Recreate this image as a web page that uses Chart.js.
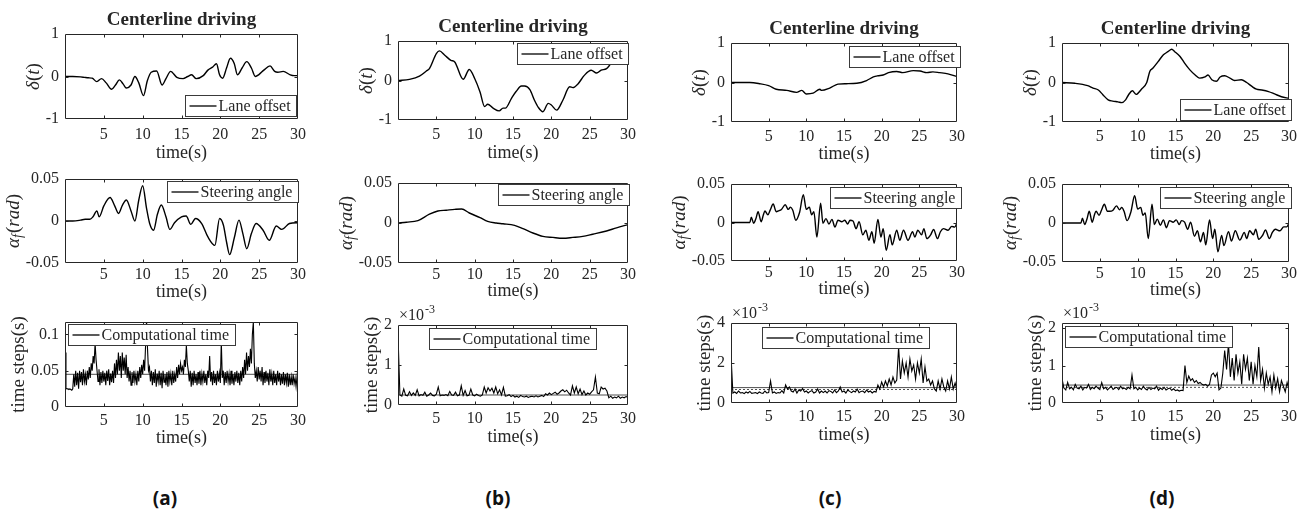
<!DOCTYPE html>
<html>
<head>
<meta charset="utf-8">
<script src="https://cdn.jsdelivr.net/npm/chart.js@4.4.0/dist/chart.umd.min.js"></script>
<style>
	body { margin: 0; background: #fff; width: 1304px; height: 514px; position: relative; overflow: hidden; }
	canvas { position: absolute; }
	.tag { position: absolute; width: 60px; margin-left: -30px; text-align: center; font: bold 19px "Open Sans", "Noto Sans", sans-serif; color: #111; line-height: 24px; }
</style>
</head>
<body>
<div class="tag" style="left:165px;top:486px">(a)</div>
<div class="tag" style="left:498px;top:486px">(b)</div>
<div class="tag" style="left:830px;top:486px">(c)</div>
<div class="tag" style="left:1162px;top:486px">(d)</div>
<script>
// ---- data ----
const xTicks = [5, 10, 15, 20, 25, 30];
const offsetTicks = [-1, 0, 1];
const steerTicks = [-0.05, 0, 0.05];
const compTicksA = [0, 0.05, 0.1];
const compTicksB = [0, 1, 2];   // x 1e-3 s
const compTicksC = [0, 2, 4];   // x 1e-3 s
const compTicksD = [0, 1, 2];   // x 1e-3 s

// lane offset delta(t)
const offsetTimeA = [0,1,2,2.5,3,3.5,4.1,4.7,5.3,6.0,6.5,7.0,7.5,7.9,8.5,9.0,9.5,10.1,10.6,11.1,11.8,12.5,13.0,13.6,14.4,15.2,15.8,16.3,16.9,17.8,18.4,19.0,19.5,19.9,20.3,20.8,21.3,21.8,22.2,22.8,23.4,24.0,24.5,25.0,25.6,26.4,27.0,27.4,28.1,29,29.5,30];
const offsetA = [0,0,-0.01,-0.02,-0.03,-0.04,-0.12,-0.05,-0.15,-0.3,-0.2,-0.08,-0.18,-0.27,-0.2,0,-0.15,-0.45,-0.1,0.1,0.13,-0.2,-0.05,0.12,-0.02,-0.05,0,0.04,-0.05,0.02,0.15,0.22,0.3,0.04,-0.04,0.2,0.43,0.3,0.04,0.2,0.35,0.2,0,0.05,0.15,0.25,0.12,0.1,0.12,0.04,0.02,0.02];
const offsetTimeB = [0,1.5,2.8,3.7,4.1,5.0,5.4,6.1,6.9,7.4,8.5,9.3,10,10.7,11.3,11.7,12.4,13.2,13.7,14,14.8,15.4,16.1,16.5,17.2,17.8,18.3,18.9,19.6,20,20.7,21.5,22.4,22.8,23.5,24.3,25.2,25.9,26.5,27.2,27.8,28.5,29.3,30];
const offsetB = [0,0.03,0.11,0.24,0.3,0.68,0.75,0.64,0.51,0.47,0.03,0.28,0.05,-0.29,-0.66,-0.6,-0.7,-0.77,-0.7,-0.7,-0.45,-0.28,-0.14,-0.14,-0.23,-0.5,-0.68,-0.79,-0.58,-0.62,-0.75,-0.5,-0.16,-0.18,-0.08,0.13,0.26,0.19,0.26,0.3,0.43,0.51,0.55,0.6];
const offsetTimeC = [0,2.5,3.8,5,6,7.4,8.7,9.4,10,10.9,11.8,12,13.1,14.2,15.3,16.7,18,18.9,19.5,20.2,20.9,22,22.8,24.2,25.1,26,26.8,27.7,28.8,30];
const offsetC = [0,0,-0.03,-0.08,-0.17,-0.2,-0.25,-0.2,-0.29,-0.27,-0.17,-0.2,-0.14,-0.04,-0.03,-0.02,0.05,0.14,0.17,0.19,0.25,0.28,0.25,0.3,0.29,0.25,0.27,0.25,0.22,0.15];
const offsetTimeD = [0,1.7,3.4,4.1,4.8,5.4,6.1,6.7,7.4,7.9,8.4,8.8,9.3,9.8,10.5,11.2,11.6,12.0,12.7,13.4,14.0,14.5,14.9,15.6,16.2,16.9,17.6,18.2,18.9,19.3,19.8,20.4,20.9,21.5,22.2,22.8,23.7,24.4,25.1,25.7,26.4,27.3,28.1,29.0,30];
const offsetD = [0,-0.02,-0.08,-0.14,-0.19,-0.31,-0.44,-0.47,-0.49,-0.51,-0.44,-0.31,-0.21,-0.3,-0.17,0,0.28,0.36,0.53,0.7,0.78,0.84,0.78,0.66,0.49,0.32,0.19,0.11,0.14,0.19,0.07,0.03,0.14,0.17,0.11,0.05,0.07,0,-0.1,-0.17,-0.19,-0.23,-0.29,-0.36,-0.4];

// steering angle alpha_f (rad)
const steerTimeA = [0,1,2,2.6,3.2,3.6,4.1,4.4,5.0,5.8,6.4,6.9,7.4,7.9,8.5,9.0,9.5,10.0,10.5,10.9,11.4,11.9,12.4,13.0,13.5,14.1,15.0,15.6,16.2,16.8,17.6,18.4,19.3,19.9,20.4,20.8,21.2,21.8,22.4,22.9,23.4,24.0,24.6,25.5,26.3,27.2,27.9,28.9,29.8,30];
const steerA = [0,0,0.001,0.002,0.002,0.005,0.012,0.005,0.018,0.028,0.018,0.009,0.019,0.025,0.012,0,0.025,0.042,0.015,-0.003,-0.011,0.008,0.019,0.005,-0.01,-0.002,0.005,0.006,-0.004,0.003,-0.003,-0.019,-0.029,0.003,-0.005,-0.025,-0.04,-0.02,0.001,-0.015,-0.033,-0.015,-0.003,-0.011,-0.023,-0.006,-0.01,-0.003,-0.002,-0.003];
const steerTimeB = [0,1.1,2.6,4.1,5.2,6.3,7.4,8.3,9.3,10.7,11.7,12.8,13.7,15.2,16.3,17.6,18.9,20.2,21.5,22.8,24.1,25.4,27.2,28.5,30];
const steerB = [0,0.001,0.003,0.011,0.015,0.016,0.017,0.0175,0.0125,0.0067,0.002,0,-0.001,-0.003,-0.007,-0.0125,-0.0167,-0.018,-0.019,-0.018,-0.0167,-0.014,-0.01,-0.006,-0.002];
const steerTimeC = [0,2.5,2.7,3.0,3.3,3.6,4.0,4.3,4.5,4.9,5.2,5.6,6.0,6.3,6.7,7.2,7.6,7.9,8.2,8.6,9.1,9.6,10.0,10.4,10.7,11.0,11.4,11.9,12.2,12.6,13.0,13.4,13.8,14.2,14.7,15.1,15.5,15.8,16.2,16.6,17.0,17.5,17.9,18.3,18.7,19.0,19.5,19.9,20.2,20.6,21.1,21.4,22.0,22.4,22.9,23.5,24.1,24.4,24.8,25.3,25.6,26.0,26.5,26.9,27.4,27.8,28.2,28.8,29.3,29.7,30];
const steerC = [0,0,0.007,-0.001,0.005,0.014,0.001,0.01,0.015,0.01,0.016,0.024,0.014,0.015,0.017,0.023,0.017,0.02,0.016,0.003,0.013,0.036,0.017,0.02,0.01,0.014,-0.019,0.025,-0.001,0.005,-0.002,0.004,-0.006,0.003,0.001,0.003,-0.002,0.003,0.002,-0.008,0.001,-0.016,-0.01,-0.023,-0.012,-0.027,0.004,-0.019,-0.008,-0.036,-0.016,-0.029,-0.01,-0.023,-0.01,-0.023,-0.012,-0.019,-0.01,-0.016,-0.008,-0.021,-0.016,-0.009,-0.021,-0.012,-0.008,-0.01,-0.005,-0.006,0];
const steerTimeD = [0,2.5,2.7,3.0,3.3,3.6,4.0,4.3,4.5,4.9,5.2,5.6,6.0,6.3,6.7,7.2,7.6,7.9,8.2,8.6,9.1,9.6,10.0,10.4,10.7,11.0,11.4,11.9,12.2,12.6,13.0,13.4,13.8,14.2,14.7,15.1,15.5,15.8,16.2,16.6,17.0,17.5,17.9,18.3,18.7,19.0,19.5,19.9,20.2,20.6,21.1,21.4,22.0,22.4,22.9,23.5,24.1,24.4,24.8,25.3,25.6,26.0,26.5,26.9,27.4,27.8,28.2,28.8,29.3,29.7,30];
const steerD = [0,0,0.006,-0.002,0.005,0.015,0.001,0.011,0.015,0.01,0.016,0.024,0.015,0.015,0.016,0.022,0.017,0.02,0.015,0.003,0.014,0.035,0.018,0.02,0.01,0.013,-0.02,0.024,-0.002,0.005,-0.003,0.004,-0.006,0.003,0.001,0.004,-0.002,0.003,0.001,-0.008,0.001,-0.017,-0.01,-0.024,-0.012,-0.028,0.004,-0.02,-0.008,-0.037,-0.016,-0.029,-0.011,-0.023,-0.01,-0.022,-0.012,-0.02,-0.01,-0.015,-0.008,-0.021,-0.016,-0.009,-0.02,-0.012,-0.008,-0.01,-0.005,-0.005,0];

// computational time, sampled on a regular grid from t = 0
const compStepA = 0.125;
const compStep = 0.25;
const compA = [0.075,
	0.026,0.025,0.025,0.024,0.025,0.024,0.023,0.025, 0.045,0.028,0.05,0.03,0.047,0.025,0.05,0.034,
	0.048,0.03,0.052,0.035,0.045,0.03,0.05,0.038, 0.055,0.04,0.06,0.05,0.07,0.06,0.088,0.065,
	0.05,0.035,0.052,0.03,0.048,0.033,0.05,0.035, 0.047,0.03,0.05,0.036,0.052,0.03,0.046,0.034,
	0.05,0.033,0.06,0.04,0.065,0.045,0.075,0.05, 0.07,0.04,0.075,0.05,0.068,0.045,0.072,0.04,
	0.055,0.035,0.05,0.03,0.048,0.033,0.05,0.035, 0.045,0.03,0.05,0.035,0.055,0.04,0.058,0.045,
	0.065,0.05,0.085,0.12,0.08,0.05,0.055,0.035, 0.05,0.03,0.048,0.033,0.052,0.028,0.046,0.035,
	0.05,0.03,0.047,0.026,0.05,0.034,0.045,0.03, 0.048,0.028,0.05,0.035,0.046,0.03,0.05,0.033,
	0.045,0.035,0.055,0.04,0.058,0.045,0.06,0.05, 0.055,0.045,0.065,0.055,0.085,0.06,0.05,0.035,
	0.05,0.028,0.047,0.03,0.05,0.033,0.045,0.03, 0.048,0.032,0.05,0.03,0.046,0.035,0.05,0.033,
	0.045,0.03,0.05,0.04,0.07,0.035,0.048,0.03, 0.05,0.033,0.045,0.03,0.05,0.035,0.047,0.033,
	0.09,0.04,0.05,0.03,0.048,0.033,0.05,0.035, 0.046,0.03,0.05,0.032,0.045,0.03,0.048,0.035,
	0.05,0.033,0.047,0.03,0.05,0.035,0.055,0.04, 0.065,0.045,0.075,0.05,0.07,0.055,0.08,0.06,
	0.1,0.117,0.06,0.04,0.05,0.035,0.055,0.038, 0.05,0.035,0.055,0.03,0.048,0.033,0.05,0.035,
	0.047,0.03,0.052,0.035,0.046,0.03,0.05,0.033, 0.045,0.03,0.05,0.035,0.047,0.03,0.045,0.032,
	0.048,0.03,0.045,0.033,0.047,0.028,0.045,0.03, 0.042,0.03,0.045,0.032,0.04,0.028,0.042,0.03];
const compB = [1.75,   // x 1e-3 s
	0.25,0.22,0.4,0.24, 0.23,0.33,0.24,0.3, 0.24,0.38,0.23,0.26, 0.24,0.32,0.22,0.25, 0.3,0.24,0.23,0.27,
	0.45,0.23,0.25,0.24, 0.26,0.23,0.34,0.25, 0.24,0.32,0.23,0.25, 0.48,0.24,0.36,0.23, 0.24,0.4,0.25,0.23,
	0.27,0.24,0.22,0.25, 0.45,0.3,0.43,0.35, 0.42,0.3,0.45,0.28, 0.38,0.25,0.44,0.22, 0.23,0.26,0.21,0.24,
	0.2,0.22,0.19,0.24, 0.21,0.2,0.22,0.19, 0.21,0.22,0.2,0.23, 0.2,0.22,0.24,0.21, 0.28,0.25,0.3,0.26,
	0.29,0.32,0.27,0.3, 0.35,0.38,0.33,0.37, 0.3,0.25,0.48,0.3, 0.45,0.28,0.4,0.26, 0.35,0.25,0.3,0.27,
	0.33,0.38,0.7,0.3, 0.28,0.45,0.4,0.42, 0.35,0.18,0.22,0.17, 0.2,0.18,0.22,0.17, 0.2,0.18,0.21,0.19];
const compC = [2.4,    // x 1e-3 s
	0.5,0.55,0.48,0.6, 0.5,0.52,0.47,0.55, 0.5,0.58,0.48,0.5, 0.52,0.47,0.55,0.5, 0.48,0.6,0.5,0.52,
	1.1,0.5,0.55,0.48, 0.52,0.5,0.62,0.5, 0.9,0.7,0.8,0.6, 0.55,0.7,0.5,0.65, 0.6,0.72,0.55,0.6,
	0.5,0.58,0.62,0.5, 0.55,0.7,0.5,0.6, 0.52,0.6,0.5,0.62, 0.58,0.5,0.65,0.52, 0.6,0.8,0.55,0.6,
	0.5,0.65,0.58,0.52, 0.6,0.55,0.7,0.52, 0.58,0.6,0.52,0.65, 0.55,0.6,0.5,0.58, 0.55,0.9,0.7,1.05,
	0.8,1.1,0.85,1.2, 0.9,1.3,1.0,1.15, 2.8,1.2,2.1,1.5, 2.0,1.3,2.2,1.6, 1.9,1.2,2.0,1.5,
	2.2,1.0,1.8,1.1, 1.2,0.9,1.1,0.7, 0.6,1.1,0.7,1.2, 0.8,0.6,1.1,0.7, 1.3,0.7,1.0,0.65];
const compD = [0.65,   // x 1e-3 s
	0.4,0.35,0.55,0.38, 0.42,0.35,0.5,0.4, 0.38,0.45,0.35,0.42, 0.4,0.5,0.36,0.42, 0.38,0.45,0.4,0.36,
	0.55,0.38,0.42,0.35, 0.4,0.45,0.36,0.4, 0.42,0.36,0.45,0.38, 0.4,0.36,0.42,0.38, 0.75,0.38,0.42,0.35,
	0.4,0.36,0.45,0.38, 0.35,0.42,0.36,0.4, 0.38,0.45,0.34,0.4, 0.36,0.42,0.35,0.38, 0.4,0.34,0.38,0.33,
	0.35,0.32,0.34,0.33, 1.0,0.55,0.72,0.6, 0.65,0.55,0.6,0.52, 0.55,0.5,0.48,0.5, 0.45,0.5,0.75,0.8,
	0.7,0.8,0.35,0.4, 0.8,1.4,0.9,1.6, 0.7,1.2,0.6,1.3, 0.8,1.1,0.5,1.3, 0.9,1.2,0.6,1.1,
	0.5,1.0,0.7,1.5, 0.6,0.9,0.4,0.8, 0.5,0.7,0.3,0.75, 0.4,0.65,0.3,0.6, 0.45,0.3,0.55,0.35];
// mean / band lines drawn over the computational time
const compRefA = [0.045];
const compRefB = [0.25];
const compRefC = [0.77, 0.68];
const compRefD = [0.48, 0.42];

// ---- drawing ----
var TXT = '#262626';
var SERIF = '"Liberation Serif", "Times New Roman", serif';
Chart.defaults.font.family = SERIF;
Chart.defaults.color = TXT;

var LBL_DELTA = [{s: 'δ', it: true}, {s: '('}, {s: 't', it: true}, {s: ')'}];
var LBL_ALPHA = [{s: 'α', it: true}, {s: 'f', it: true, sub: true}, {s: '('}, {s: 'rad', it: true}, {s: ')'}];
var LBL_TIME = [{s: 'time steps(s)'}];

function pts(ts, vs) { return vs.map((v, i) => ({x: ts[i], y: v})); }
function sampled(vs, step) { return vs.map((v, i) => ({x: i * step, y: v})); }

function partFont(p) { return (p.it ? 'italic ' : '') + (p.sub ? 14 : 19) + 'px ' + SERIF; }

function drawRich(ctx, parts, x, y)
{
	var w = 0;
	parts.forEach(p => { ctx.font = partFont(p); w += ctx.measureText(p.s).width + (p.sub ? 1 : 0); });
	var cx = x - w / 2;
	ctx.textAlign = 'left';
	ctx.textBaseline = 'middle';
	parts.forEach(p => {
		ctx.font = partFont(p);
		ctx.fillText(p.s, cx, y + (p.sub ? 5 : 0));
		cx += ctx.measureText(p.s).width + (p.sub ? 1 : 0);
	});
}

function decor(spec)
{
	return {
		id: 'decor',
		afterDatasetsDraw(chart)
		{
			var ctx = chart.ctx, a = chart.chartArea, sx = chart.scales.x, sy = chart.scales.y;
			ctx.save();
			ctx.fillStyle = TXT;
			ctx.strokeStyle = TXT;
			ctx.lineWidth = 1;

			var l = Math.round(a.left) + 0.5, t = Math.round(a.top) + 0.5;
			var r = Math.round(a.right) - 0.5, b = Math.round(a.bottom) - 0.5;
			ctx.beginPath();
			ctx.rect(l, t, r - l, b - t);
			xTicks.forEach(v => {
				var p = Math.round(sx.getPixelForValue(v)) + 0.5;
				if (p >= r - 1) return;
				ctx.moveTo(p, b); ctx.lineTo(p, b - 3);
				ctx.moveTo(p, t); ctx.lineTo(p, t + 3);
			});
			spec.yTicks.forEach(v => {
				var p = Math.round(sy.getPixelForValue(v)) + 0.5;
				if (p <= t + 1 || p >= b - 1) return;
				ctx.moveTo(l, p); ctx.lineTo(l + 3, p);
				ctx.moveTo(r, p); ctx.lineTo(r - 3, p);
			});
			ctx.stroke();

			if (spec.title) {
				ctx.font = 'bold 19px ' + SERIF;
				ctx.textAlign = 'center';
				ctx.textBaseline = 'middle';
				ctx.fillText('Centerline driving', (a.left + a.right) / 2, a.top - 14);
			}

			ctx.font = '18px ' + SERIF;
			ctx.textAlign = 'center';
			ctx.textBaseline = 'middle';
			ctx.fillText('time(s)', (a.left + a.right) / 2, a.bottom + spec.xLabelGap);

			ctx.font = '16px ' + SERIF;
			var maxW = 0;
			spec.yTicks.forEach(v => { maxW = Math.max(maxW, ctx.measureText(String(v)).width); });
			ctx.save();
			ctx.translate(a.left - 6 - maxW - 12, (a.top + a.bottom) / 2);
			ctx.rotate(-Math.PI / 2);
			drawRich(ctx, spec.yLabel, 0, 0);
			ctx.restore();

			if (spec.exponent) {
				ctx.font = '16px ' + SERIF;
				ctx.textAlign = 'left';
				ctx.textBaseline = 'alphabetic';
				ctx.fillText('×10', a.left + 1, a.top - 5);
				var ew = ctx.measureText('×10').width;
				ctx.font = '12px ' + SERIF;
				ctx.fillText('-3', a.left + 2 + ew, a.top - 12);
			}

			var lg = spec.legend;
			ctx.font = '16px ' + SERIF;
			var bx = Math.round(lg[1] - spec.rect[0] + a.left) + 0.5;
			var by = Math.round(lg[2] - spec.rect[1] + a.top) + 0.5;
			var bw = Math.round(4 + 27 + 3 + ctx.measureText(lg[0]).width + 5), bh = 21;
			ctx.fillStyle = '#fff';
			ctx.fillRect(bx, by, bw, bh);
			ctx.strokeStyle = '#3a3a3a';
			ctx.strokeRect(bx, by, bw, bh);
			ctx.strokeStyle = '#000';
			ctx.lineWidth = 1.3;
			ctx.beginPath();
			ctx.moveTo(bx + 4, by + bh / 2);
			ctx.lineTo(bx + 31, by + bh / 2);
			ctx.stroke();
			ctx.fillStyle = TXT;
			ctx.textAlign = 'left';
			ctx.textBaseline = 'middle';
			ctx.fillText(lg[0], bx + 33, by + bh / 2 + 1);
			ctx.restore();
		}
	};
}

function makePlot(spec)
{
	var L = spec.rect[0], T = spec.rect[1], R = spec.rect[2], B = spec.rect[3];
	var canvas = document.body.appendChild(document.createElement('canvas'));
	canvas.width = R - L + 84;
	canvas.height = B - T + 76;
	canvas.style.left = (L - 70) + 'px';
	canvas.style.top = (T - 30) + 'px';

	var datasets = [{
		data: spec.data,
		borderColor: '#000',
		borderWidth: spec.noisy ? 1.1 : 1.4,
		pointRadius: 0,
		tension: spec.noisy ? 0 : 0.4,
		cubicInterpolationMode: spec.noisy ? 'default' : 'monotone'
	}];
	(spec.refs || []).forEach((v, i) => {
		datasets.push({
			data: [{x: 0, y: v}, {x: 30, y: v}],
			borderColor: '#222',
			borderWidth: 0.8,
			borderDash: i ? [2, 2] : [],
			pointRadius: 0
		});
	});

	new Chart(canvas, {
		type: 'line',
		data: {datasets: datasets},
		options: {
			responsive: false,
			animation: false,
			devicePixelRatio: 1,
			layout: {padding: {left: 0, top: 30, right: 14, bottom: 0}},
			plugins: {legend: {display: false}, tooltip: {enabled: false}},
			scales: {
				x: {
					type: 'linear', min: 0, max: 30,
					afterBuildTicks: s => { s.ticks = xTicks.map(v => ({value: v})); },
					afterFit: s => { s.height = 46; s.paddingLeft = 0; s.paddingRight = 0; },
					grid: {display: false, drawTicks: false},
					border: {display: false},
					ticks: {padding: spec.xTickPad, maxRotation: 0, autoSkip: false, font: {size: 16}, color: TXT}
				},
				y: {
					type: 'linear', min: spec.yMin, max: spec.yMax,
					afterBuildTicks: s => { s.ticks = spec.yTicks.map(v => ({value: v})); },
					afterFit: s => { s.width = 70; s.paddingTop = 0; s.paddingBottom = 0; },
					grid: {display: false, drawTicks: false},
					border: {display: false},
					ticks: {padding: 6, autoSkip: false, font: {size: 16}, color: TXT, callback: v => String(v)}
				}
			}
		},
		plugins: [decor(spec)]
	});
}

var panels = [
	{rect: [65, 34, 298, 119], title: true, data: pts(offsetTimeA, offsetA), yMin: -1, yMax: 1, yTicks: offsetTicks, yLabel: LBL_DELTA, legend: ['Lane offset', 185, 95], xTickPad: 6, xLabelGap: 34},
	{rect: [65, 179, 298, 263], data: pts(steerTimeA, steerA), yMin: -0.05, yMax: 0.05, yTicks: steerTicks, yLabel: LBL_ALPHA, legend: ['Steering angle', 167, 181], xTickPad: 2, xLabelGap: 29},
	{rect: [65, 322, 298, 407], data: sampled(compA, compStepA), noisy: true, refs: compRefA, yMin: 0, yMax: 0.117, yTicks: compTicksA, yLabel: LBL_TIME, legend: ['Computational time', 68, 324], xTickPad: 4, xLabelGap: 31},

	{rect: [398, 41, 628, 120], title: true, data: pts(offsetTimeB, offsetB), yMin: -1, yMax: 1, yTicks: offsetTicks, yLabel: LBL_DELTA, legend: ['Lane offset', 517, 43], xTickPad: 5, xLabelGap: 33},
	{rect: [398, 183, 628, 263], data: pts(steerTimeB, steerB), yMin: -0.05, yMax: 0.05, yTicks: steerTicks, yLabel: LBL_ALPHA, legend: ['Steering angle', 498, 184], xTickPad: 2, xLabelGap: 28},
	{rect: [398, 325, 628, 405], data: sampled(compB, compStep), noisy: true, refs: compRefB, exponent: true, yMin: 0, yMax: 2, yTicks: compTicksB, yLabel: LBL_TIME, legend: ['Computational time', 429, 328], xTickPad: 4, xLabelGap: 32},

	{rect: [731, 43, 957, 122], title: true, data: pts(offsetTimeC, offsetC), yMin: -1, yMax: 1, yTicks: offsetTicks, yLabel: LBL_DELTA, legend: ['Lane offset', 849, 46], xTickPad: 5, xLabelGap: 32},
	{rect: [731, 184, 957, 261], data: pts(steerTimeC, steerC), yMin: -0.05, yMax: 0.05, yTicks: steerTicks, yLabel: LBL_ALPHA, legend: ['Steering angle', 830, 187], xTickPad: 2, xLabelGap: 28},
	{rect: [731, 323, 957, 403], data: sampled(compC, compStep), noisy: true, refs: compRefC, exponent: true, yMin: 0, yMax: 4, yTicks: compTicksC, yLabel: LBL_TIME, legend: ['Computational time', 762, 327], xTickPad: 4, xLabelGap: 32},

	{rect: [1062, 43, 1289, 122], title: true, data: pts(offsetTimeD, offsetD), yMin: -1, yMax: 1, yTicks: offsetTicks, yLabel: LBL_DELTA, legend: ['Lane offset', 1180, 99], xTickPad: 5, xLabelGap: 32},
	{rect: [1062, 184, 1289, 262], data: pts(steerTimeD, steerD), yMin: -0.05, yMax: 0.05, yTicks: steerTicks, yLabel: LBL_ALPHA, legend: ['Steering angle', 1160, 187], xTickPad: 2, xLabelGap: 28},
	{rect: [1062, 323, 1289, 403], data: sampled(compD, compStep), noisy: true, refs: compRefD, exponent: true, yMin: 0, yMax: 2.14, yTicks: compTicksD, yLabel: LBL_TIME, legend: ['Computational time', 1065, 326], xTickPad: 4, xLabelGap: 32}
];

panels.forEach(makePlot);
</script>
</body>
</html>
